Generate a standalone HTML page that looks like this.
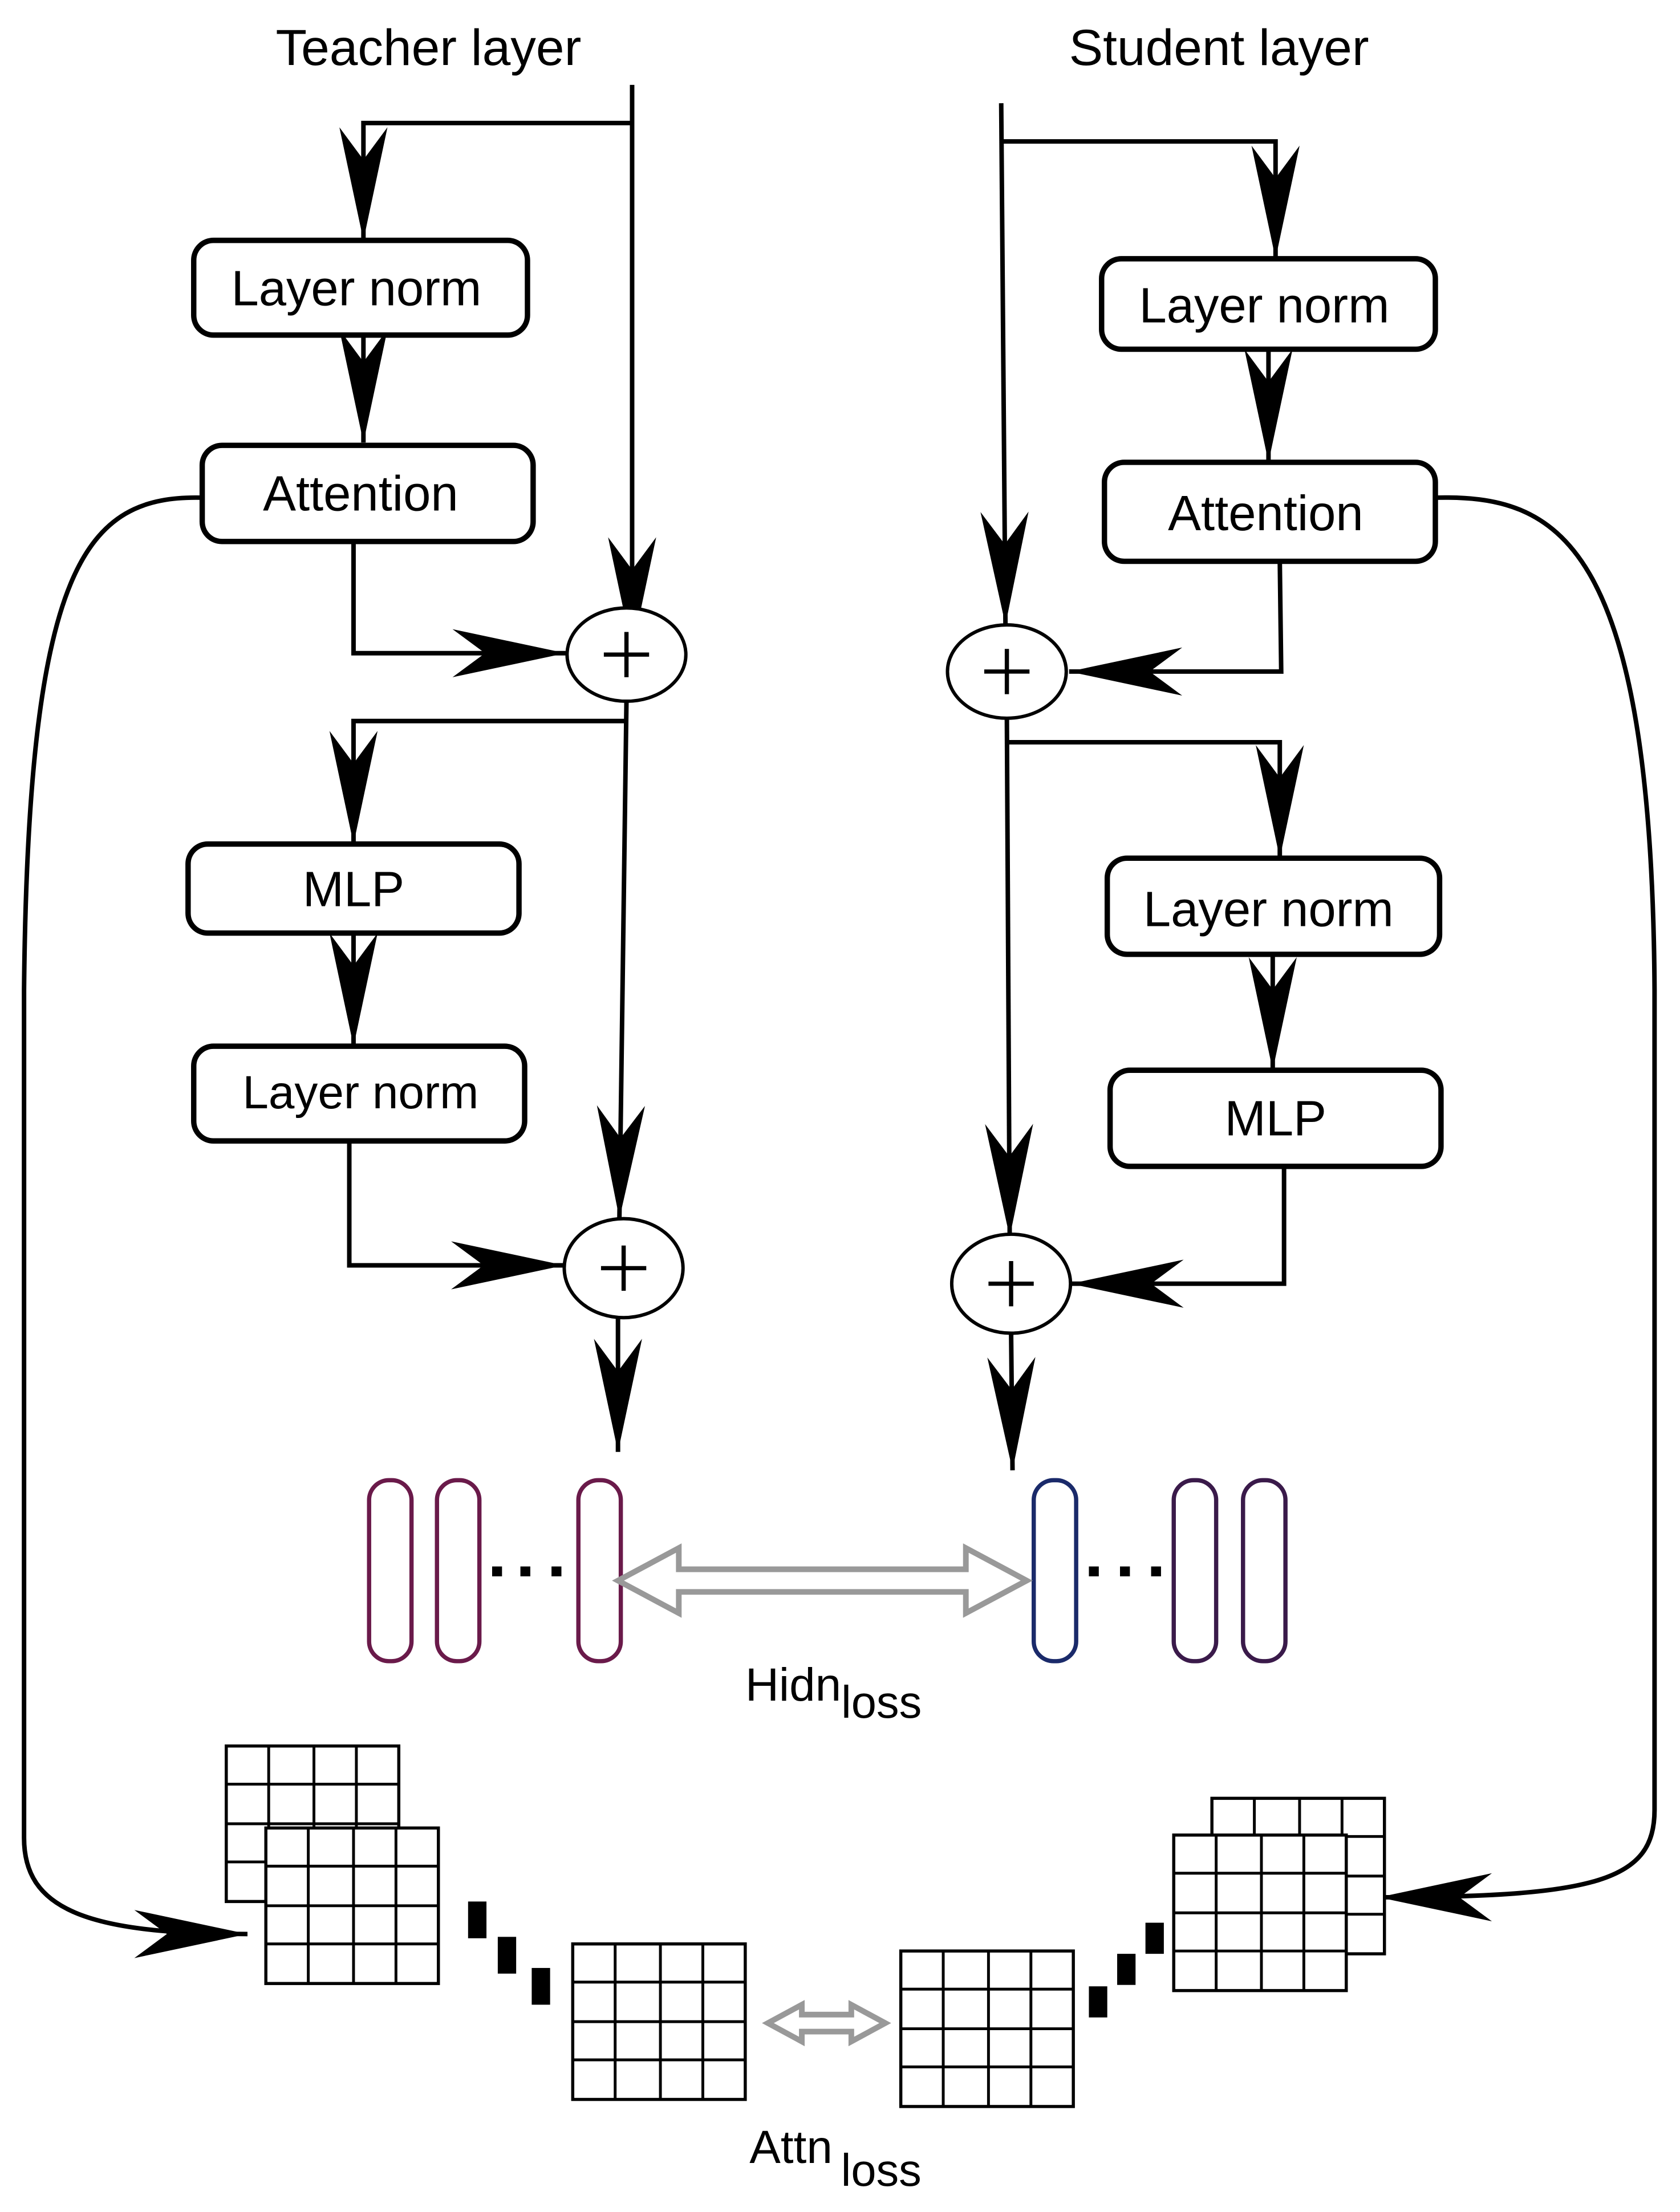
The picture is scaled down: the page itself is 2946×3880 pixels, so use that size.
<!DOCTYPE html>
<html><head><meta charset="utf-8"><style>
html,body{margin:0;padding:0;background:#fff;}
svg{display:block;}
text{font-family:"Liberation Sans",Arial,sans-serif;fill:#000;}
</style></head><body>
<svg width="2946" height="3880" viewBox="0 0 1188 1564.6" xmlns="http://www.w3.org/2000/svg">
<defs>
<marker id="a" viewBox="-82 -18 84 36" refX="0" refY="0" markerWidth="84" markerHeight="36" markerUnits="userSpaceOnUse" orient="auto">
<path d="M0,0 L-80,-17 L-57,0 L-80,17 Z" fill="#000"/>
</marker>
<g id="grid">
<rect x="0" y="0" width="122" height="110" fill="#fff" stroke="#000" stroke-width="2.2"/>
<path d="M30,0V110M62,0V110M92,0V110M0,27H122M0,55H122M0,82H122" stroke="#000" stroke-width="2" fill="none"/>
</g>
</defs>
<g fill="none" stroke="#000" stroke-width="3.2">
<path d="M447,60 V460" marker-end="url(#a)" />
<path d="M447,87 H257 V170" marker-end="url(#a)"/>
<path d="M257,237 V313" marker-end="url(#a)"/>
<path d="M250,383 V462 H400" marker-end="url(#a)"/>
<path d="M443,510 H250 V597" marker-end="url(#a)"/>
<path d="M443,496 L438,862" marker-end="url(#a)"/>
<path d="M250,660 V740" marker-end="url(#a)"/>
<path d="M247,807 V895 H399" marker-end="url(#a)"/>
<path d="M437,932 V1027" marker-end="url(#a)"/>
<path d="M708,73 L711,442" marker-end="url(#a)"/>
<path d="M708,100 H902 V183" marker-end="url(#a)"/>
<path d="M897,247 V327" marker-end="url(#a)"/>
<path d="M905,397 L906,475 H756" marker-end="url(#a)"/>
<path d="M712,525 H905 V607" marker-end="url(#a)"/>
<path d="M712,508 L714,875" marker-end="url(#a)"/>
<path d="M900,675 V757" marker-end="url(#a)"/>
<path d="M908,825 V908 H757" marker-end="url(#a)"/>
<path d="M715,943 L716,1040" marker-end="url(#a)"/>
<path d="M143,352 C60,350 20,400 17,700 L17,1300 C17,1350 60,1368 175,1368" marker-end="url(#a)"/>
<path d="M1015,352 C1100,350 1168,380 1170,700 L1170,1280 C1170,1330 1130,1342 975,1342" marker-end="url(#a)"/>
</g>
<g fill="#fff" stroke="#000" stroke-width="3.8">
<rect x="137" y="170" width="236" height="67" rx="14"/>
<rect x="143" y="315" width="234" height="68" rx="14"/>
<rect x="133" y="597" width="234" height="63" rx="14"/>
<rect x="137" y="740" width="234" height="67" rx="14"/>
<rect x="779" y="183" width="236" height="64" rx="14"/>
<rect x="781" y="327" width="234" height="70" rx="14"/>
<rect x="783" y="607" width="235" height="68" rx="14"/>
<rect x="785" y="757" width="234" height="68" rx="14"/>
</g>
<g fill="#fff" stroke="#000" stroke-width="2.4">
<ellipse cx="443" cy="463" rx="42" ry="33"/>
<ellipse cx="441" cy="897" rx="42" ry="35"/>
<ellipse cx="712" cy="475" rx="42" ry="33"/>
<ellipse cx="715" cy="908" rx="42" ry="35"/>
</g>
<g font-size="35" text-anchor="middle">
<text x="303" y="46" font-size="36">Teacher layer</text>
<text x="862" y="46" font-size="36">Student layer</text>
<text x="252" y="216">Layer norm</text>
<text x="255" y="361">Attention</text>
<text x="250" y="641">MLP</text>
<text x="255" y="784" font-size="33">Layer norm</text>
<text x="894" y="228">Layer norm</text>
<text x="895" y="375">Attention</text>
<text x="897" y="655">Layer norm</text>
<text x="902" y="803">MLP</text>
</g>
<g stroke="#000" stroke-width="3">
<path d="M443,447V479M427,463H459"/><path d="M441,881V913M425,897H457"/>
<path d="M712,459V491M696,475H728"/><path d="M715,892V924M699,908H731"/>
</g>
<g fill="#fff" stroke-width="3">
<rect x="261" y="1047" width="30" height="128" rx="14" stroke="#6a1a4a"/>
<rect x="309" y="1047" width="30" height="128" rx="14" stroke="#6a1a4a"/>
<rect x="409" y="1047" width="30" height="128" rx="14" stroke="#6a1a4a"/>
<rect x="731" y="1047" width="30" height="128" rx="14" stroke="#1a2a6a"/>
<rect x="830" y="1047" width="30" height="128" rx="14" stroke="#3a1a4a"/>
<rect x="879" y="1047" width="30" height="128" rx="14" stroke="#3a1a4a"/>
</g>
<g fill="#000">
<rect x="348" y="1108" width="7" height="7"/><rect x="368" y="1108" width="7" height="7"/><rect x="390" y="1108" width="7" height="7"/>
<rect x="770" y="1108" width="7" height="7"/><rect x="792" y="1108" width="7" height="7"/><rect x="814" y="1108" width="7" height="7"/>
</g>
<polygon points="437,1118 480,1095 480,1110 683,1110 683,1095 726,1118 683,1141 683,1126 480,1126 480,1141" fill="#fff" stroke="#999" stroke-width="4"/>
<text x="527" y="1203" font-size="33">Hidn<tspan font-size="32" dy="12">loss</tspan></text>
<use href="#grid" x="160" y="1235"/>
<use href="#grid" x="188" y="1293"/>
<use href="#grid" x="405" y="1375"/>
<use href="#grid" x="637" y="1380"/>
<use href="#grid" x="857" y="1272"/>
<use href="#grid" x="830" y="1298"/>
<g fill="#000">
<rect x="331" y="1345" width="13" height="26"/><rect x="352" y="1370" width="13" height="26"/><rect x="376" y="1392" width="13" height="26"/>
<rect x="770" y="1405" width="13" height="22"/><rect x="790" y="1382" width="13" height="22"/><rect x="810" y="1360" width="13" height="22"/>
</g>
<polygon points="543,1431 567,1418 567,1425 602,1425 602,1418 626,1431 602,1444 602,1437 567,1437 567,1444" fill="#fff" stroke="#999" stroke-width="4"/>
<text x="530" y="1530" font-size="33">Attn<tspan font-size="32" dx="6" dy="16">loss</tspan></text>
</svg>
</body></html>
